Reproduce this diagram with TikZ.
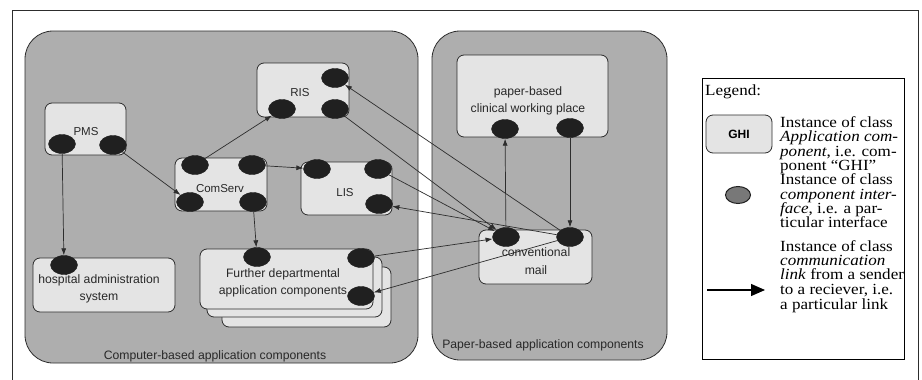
\documentclass[tikz,border=0pt]{standalone}
\usepackage{fontspec}
\setmainfont{Liberation Serif}
\setsansfont{Liberation Sans}
\newfontfamily\legfont{Liberation Serif}[FakeStretch=1.1,Ligatures=TeX]
\usetikzlibrary{shapes.geometric,arrows.meta}
\definecolor{regiongray}{RGB}{174,174,174}
\definecolor{compfill}{RGB}{228,228,228}
\definecolor{ifcol}{RGB}{32,32,32}
\definecolor{linecol}{RGB}{45,45,45}
\definecolor{textcol}{RGB}{40,40,40}
\definecolor{legifc}{RGB}{120,120,120}
\tikzset{
  region/.style={draw=linecol, line width=0.8pt, fill=regiongray, rounded corners=28pt, inner sep=0pt},
  comp/.style={draw=linecol, line width=0.8pt, fill=compfill, rounded corners=7pt, inner sep=0pt},
  ifc/.style={ellipse, fill=ifcol, draw=ifcol, minimum width=27pt, minimum height=19pt, inner sep=0pt},
  link/.style={draw=linecol, line width=0.7pt, -{Latex[length=7pt,width=5pt]}},
  lbl/.style={font=\sffamily\fontsize{12.2}{17.5}\selectfont, text=textcol, align=center, inner sep=0pt},
  slbl/.style={font=\sffamily\fontsize{11.5}{14}\selectfont, text=textcol, inner sep=0pt},
  leg/.style={font=\legfont\fontsize{15.5}{14.3}\selectfont, anchor=base west, inner sep=0pt}
}
\begin{document}
\begin{tikzpicture}[x=1pt,y=-1pt]
\useasboundingbox (0,0) rectangle (922,380);
\fill[white] (0,0) rectangle (922,380);
% outer frame
\draw[linecol, line width=1pt] (12,380) -- (12,10) -- (918,10) -- (918,380);

% regions
\node[region, minimum width=393pt, minimum height=332pt] (cbr) at (221.5,197) {};
\node[region, minimum width=235pt, minimum height=329pt] (pbr) at (549.5,195.5) {};
\node[lbl] (cbrl) at (215,356) {Computer-based application components};
\node[lbl] (pbrl) at (543,345) {Paper-based application components};

% components
\node[comp, minimum width=92pt, minimum height=54pt] (ris) at (303,90) {};
\node[slbl] (risl) at (300,93) {RIS};
\node[comp, minimum width=81pt, minimum height=52pt] (pms) at (85.5,129) {};
\node[slbl] (pmsl) at (86,132) {PMS};
\node[comp, minimum width=92pt, minimum height=53pt] (cs) at (221,184.5) {};
\node[slbl] (csl) at (220,189) {ComServ};
\node[comp, minimum width=91pt, minimum height=53pt] (lis) at (346.5,188.5) {};
\node[slbl] (lisl) at (345,193) {LIS};
\node[comp, minimum width=142pt, minimum height=54pt] (hosp) at (104,285) {};
\node[lbl] (hospl) at (99,289) {hospital administration\\system};
\node[comp, minimum width=169pt, minimum height=60pt] (fdc) at (306.5,297) {};
\node[comp, minimum width=175pt, minimum height=60pt] (fdb) at (294.5,287) {};
\node[comp, minimum width=173pt, minimum height=60pt] (fd) at (286.5,279) {};
\node[lbl] (fdl) at (283,283) {Further departmental\\application components};
\node[comp, minimum width=151pt, minimum height=82pt] (cl) at (532.5,96) {};
\node[lbl] (cll) at (528,101) {paper-based\\clinical working place};
\node[comp, minimum width=113pt, minimum height=54pt] (mail) at (535.5,257) {};
\node[lbl] (maill) at (536,261) {conventional\\mail};

% interfaces
\node[ifc] (ris1) at (335,78) {};
\node[ifc] (ris2) at (282,109) {};
\node[ifc] (ris3) at (335,109) {};
\node[ifc] (pms1) at (62,144) {};
\node[ifc] (pms2) at (113,145) {};
\node[ifc] (cs1) at (195,165) {};
\node[ifc] (cs2) at (252,165) {};
\node[ifc] (cs3) at (190,202) {};
\node[ifc] (cs4) at (253,202) {};
\node[ifc] (lis1) at (317,169) {};
\node[ifc] (lis2) at (378,169) {};
\node[ifc] (lis3) at (379,204) {};
\node[ifc] (hosp1) at (64,265) {};
\node[ifc] (fd1) at (257,257) {};
\node[ifc] (fd2) at (361,258) {};
\node[ifc] (fd3) at (361,296) {};
\node[ifc] (cl1) at (505,129) {};
\node[ifc] (cl2) at (570,128) {};
\node[ifc] (m1) at (506,237) {};
\node[ifc] (m2) at (570,237) {};

% links
\draw[link] (pms1) -- (hosp1);
\draw[link] (pms2) -- (cs3);
\draw[link] (cs1) -- (ris2);
\draw[link] (cs2) -- (lis1);
\draw[link] (cs4) -- (fd1);
\draw[link] (ris3) -- (m1);
\draw[link] (m2) -- (ris1);
\draw[link] (lis2) -- (m1);
\draw[link] (m2) -- (lis3);
\draw[link] (fd2) -- (m1);
\draw[link] (m2) -- (fd3);
\draw[link] (m1) -- (cl1);
\draw[link] (cl2) -- (m2);

% legend
\node[draw=black, line width=0.8pt, fill=white, minimum width=202pt, minimum height=281pt, inner sep=0pt] (legbox) at (803,218.5) {};
\node[leg] (legt) at (705,95) {Legend:};
\node[comp, minimum width=66pt, minimum height=38pt, font=\sffamily\bfseries\fontsize{12}{14}\selectfont] (ghi) at (739,134) {GHI};
\node[ellipse, fill=legifc, draw=ifcol, line width=1pt, minimum width=25pt, minimum height=17pt, inner sep=0pt] (legifcn) at (738,195) {};
\coordinate (la1) at (707,290);
\coordinate (la2) at (765,290);
\draw[black, line width=1.3pt, -{Triangle[length=14pt,width=12pt]}] (la1) -- (la2);
\node[leg] (lg1) at (780,127) {Instance of class};
\node[leg] (lg2) at (780,141) {\textit{Application com-}};
\node[leg] (lg3) at (780,156) {\textit{ponent}, i.e. com-};
\node[leg] (lg4) at (780,170) {ponent “GHI”};
\node[leg] (lg5) at (780,184) {Instance of class};
\node[leg] (lg6) at (780,199) {\textit{component inter-}};
\node[leg] (lg7) at (780,213) {\textit{face}, i.e. a par-};
\node[leg] (lg8) at (780,227) {ticular interface};
\node[leg] (lg9) at (780,251) {Instance of class};
\node[leg] (lg10) at (780,265) {\textit{communication}};
\node[leg] (lg11) at (780,279) {\textit{link} from a sender};
\node[leg] (lg12) at (780,294) {to a reciever, i.e.};
\node[leg] (lg13) at (780,309) {a particular link};
\end{tikzpicture}
\end{document}
